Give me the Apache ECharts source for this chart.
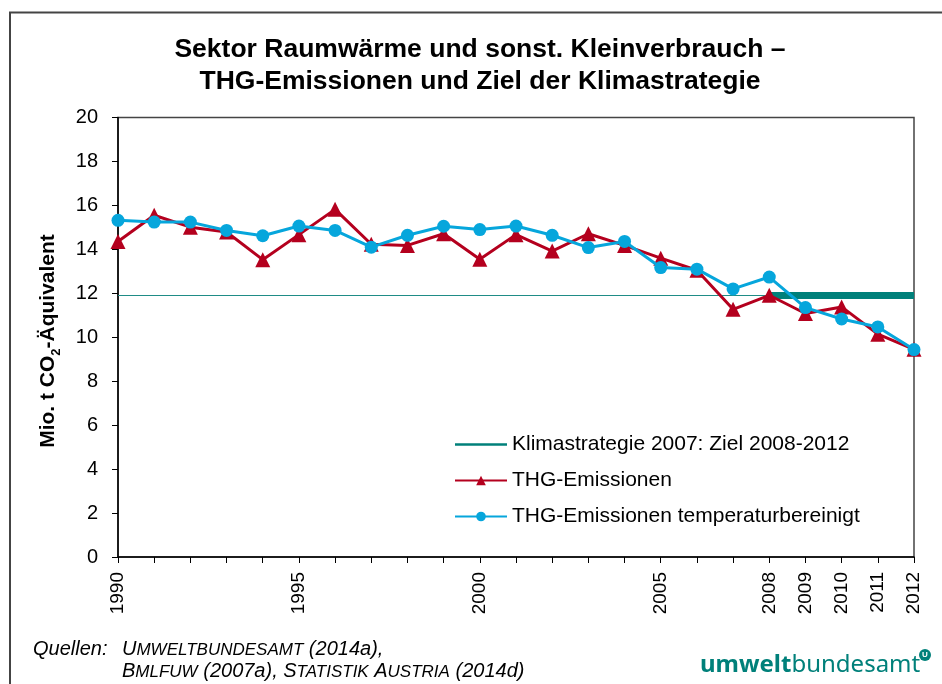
<!DOCTYPE html>
<html>
<head>
<meta charset="utf-8">
<script src="https://cdn.jsdelivr.net/npm/echarts@6/dist/echarts.min.js"></script>
<style>
html,body{margin:0;padding:0;background:#fff;}
#chart{width:942px;height:684px;}
</style>
</head>
<body>
<div id="chart"></div>
<script>
const years = ['1990','1991','1992','1993','1994','1995','1996','1997','1998','1999','2000','2001','2002','2003','2004','2005','2006','2007','2008','2009','2010','2011','2012'];
const emissions = [14.36,15.55,15.01,14.79,13.53,14.67,15.82,14.23,14.18,14.71,13.55,14.67,13.92,14.71,14.18,13.6,13.05,11.27,11.91,11.08,11.38,10.14,9.45];
const adjusted = [15.32,15.24,15.24,14.86,14.62,15.06,14.86,14.1,14.64,15.05,14.9,15.06,14.64,14.08,14.36,13.17,13.1,12.2,12.74,11.35,10.83,10.47,9.44];
const targetValue = 11.9;
const targetYears = ['2008','2009','2010','2011','2012'];
const shownYearLabels = ['1990','1995','2000','2005','2008','2009','2010','2011','2012'];
const yMin = 0, yMax = 20, yStep = 2;
const seriesNames = ['Klimastrategie 2007: Ziel 2008-2012','THG-Emissionen','THG-Emissionen temperaturbereinigt'];

const RED = '#B4001E', BLUE = '#06A6DC', TEAL = '#00807A';
const FONT = 'Liberation Sans, Arial, sans-serif';

const chart = echarts.init(document.getElementById('chart'), null, {renderer:'canvas'});
chart.setOption({
  animation: false,
  backgroundColor: '#fff',
  grid: {left: 118, right: 28, top: 117.5, bottom: 127, show: true, borderColor: '#444', borderWidth: 1.5, backgroundColor: 'transparent'},
  xAxis: {
    type: 'category', data: years, boundaryGap: false,
    axisLine: {lineStyle: {color: '#000', width: 1.5}},
    axisTick: {interval: 0, length: 6, lineStyle: {color: '#000'}},
    axisLabel: {interval: (i, v) => shownYearLabels.includes(v), rotate: 90, margin: 15, fontSize: 19, color: '#000', fontFamily: FONT},
    splitLine: {show: false}
  },
  yAxis: {
    type: 'value', min: yMin, max: yMax, interval: yStep,
    axisLine: {show: true, lineStyle: {color: '#000', width: 1.5}},
    axisTick: {show: true, length: 6, lineStyle: {color: '#000'}},
    axisLabel: {margin: 20, fontSize: 20, color: '#000', fontFamily: FONT},
    splitLine: {show: false}
  },
  legend: {
    orient: 'vertical', left: 449, top: 429, itemWidth: 52, itemHeight: 12, itemGap: 15,
    textStyle: {fontSize: 21, color: '#000', fontFamily: FONT},
    data: [
      {name: seriesNames[0], icon: 'path://M0,0 L52,0 L52,2.5 L0,2.5 Z', itemStyle: {color: TEAL}},
      {name: seriesNames[1]},
      {name: seriesNames[2]}
    ]
  },
  series: [
    {name: 'ref', type: 'line', data: years.map(() => targetValue), symbol: 'none', lineStyle: {color: '#1f8c86', width: 1.2}, z: 1, silent: true},
    {name: seriesNames[0], type: 'line', data: years.map(y => targetYears.includes(y) ? targetValue : null), symbol: 'none', color: TEAL, lineStyle: {color: TEAL, width: 7}, z: 2},
    {name: seriesNames[1], type: 'line', data: emissions, symbol: 'triangle', symbolSize: 15, color: RED, itemStyle: {color: RED}, lineStyle: {color: RED, width: 3}, z: 3},
    {name: seriesNames[2], type: 'line', data: adjusted, symbol: 'circle', symbolSize: 13, color: BLUE, itemStyle: {color: BLUE}, lineStyle: {color: BLUE, width: 3}, z: 4}
  ],
  graphic: [
    {type: 'rect', shape: {x: 10, y: 12.5, width: 1000, height: 1000}, style: {fill: 'none', stroke: '#444', lineWidth: 2}, silent: true},
    {type: 'text', x: 480, y: 34, style: {text: 'Sektor Raumwärme und sonst. Kleinverbrauch –\nTHG-Emissionen und Ziel der Klimastrategie', font: 'bold 26.5px ' + FONT, fill: '#000', textAlign: 'center', lineHeight: 32}},
    {type: 'text', x: 46, y: 341, rotation: Math.PI / 2, style: {
      text: '{a|Mio. t CO}{s|2}{a|-Äquivalent}', textAlign: 'center', textVerticalAlign: 'middle',
      rich: {a: {font: 'bold 21px ' + FONT, fill: '#000', lineHeight: 26, verticalAlign: 'bottom'}, s: {font: 'bold 13px ' + FONT, fill: '#000', lineHeight: 26, verticalAlign: 'bottom', padding: [0,0,-4,0]}}
    }},
    {type: 'text', x: 33, y: 639, style: {text: 'Quellen:', font: 'italic 20px ' + FONT, fill: '#000'}},
    {type: 'text', x: 122, y: 637, style: {
      text: '{b|U}{s|MWELTBUNDESAMT}{b| (2014a),}\n{b|B}{s|MLFUW}{b| (2007a), S}{s|TATISTIK}{b| A}{s|USTRIA}{b| (2014d)}',
      rich: {b: {font: 'italic 20px ' + FONT, fill: '#000', lineHeight: 22, verticalAlign: 'bottom'}, s: {font: 'italic 17px ' + FONT, fill: '#000', lineHeight: 22, verticalAlign: 'bottom'}}
    }},
    {type: 'text', x: 700, y: 665, style: {
      text: '{u|umwelt}{v|bundesamt}', textVerticalAlign: 'middle',
      rich: {u: {font: 'bold 24px Noto Sans, sans-serif', fill: TEAL}, v: {font: '24px Noto Sans, sans-serif', fill: TEAL}}
    }},
    {type: 'circle', shape: {cx: 925, cy: 655, r: 6}, style: {fill: TEAL}},
    {type: 'text', x: 925, y: 655, style: {text: 'U', font: 'bold 8px ' + FONT, fill: '#fff', textAlign: 'center', textVerticalAlign: 'middle'}}
  ]
});
</script>
</body>
</html>
